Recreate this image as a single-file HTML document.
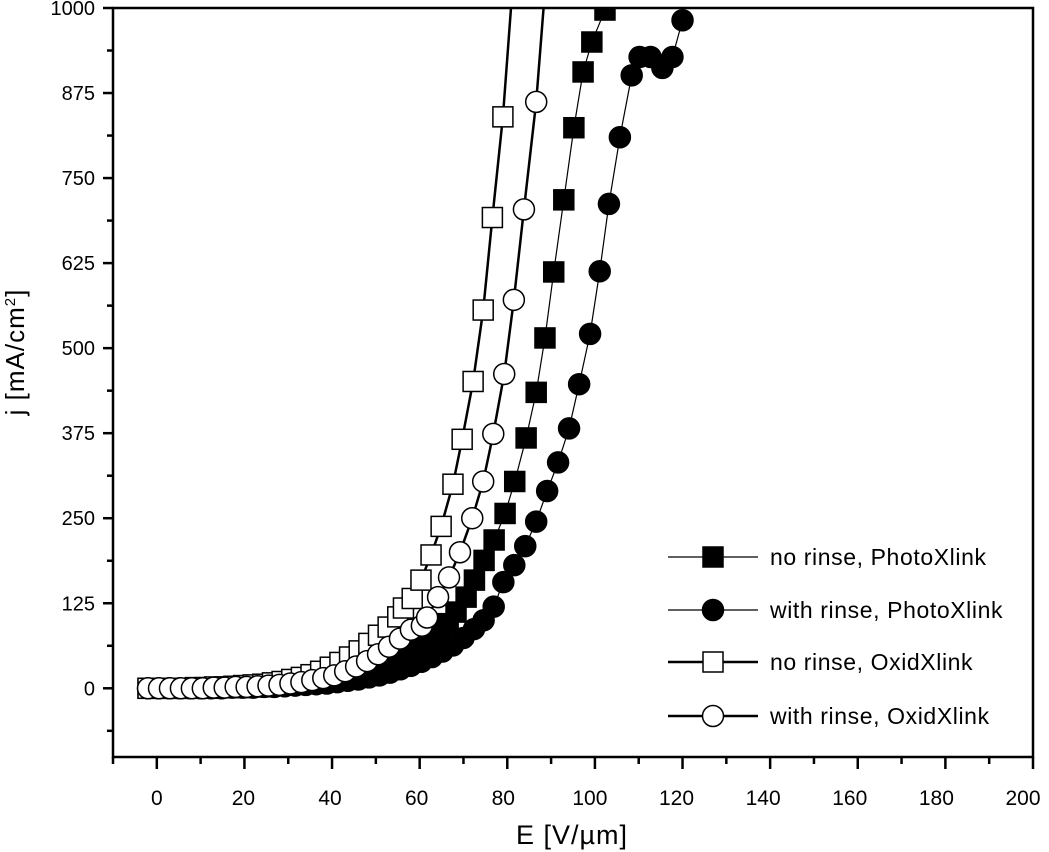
<!DOCTYPE html>
<html><head><meta charset="utf-8"><style>
html,body{margin:0;padding:0;background:#fff;}
svg{display:block;font-family:"Liberation Sans",sans-serif;}
</style></head><body>
<svg id="chart" width="1049" height="852" viewBox="0 0 1049 852">
<defs><clipPath id="clip"><rect x="113" y="8" width="920" height="749"/></clipPath></defs>
<g id="series" clip-path="url(#clip)"></g>
<g id="axes"></g>
<g id="legend"></g>
</svg>
<script>
const xTicks=[0,20,40,60,80,100,120,140,160,180,200];
const yTicks=[0,125,250,375,500,625,750,875,1000];
const seriesNames=["no rinse, PhotoXlink","with rinse, PhotoXlink","no rinse, OxidXlink","with rinse, OxidXlink"];
const fsX=[-2,0.3,2.6,4.9,7.2,9.5,11.8,14.1,16.4,18.7,21,23.3,25.6,27.9,30.2,32.5,34.8,37.1,39.4,41.7,44,46.3,48.6,50.9,53.2,55.5,57.8,60.1,62.4,64.7,66.5,68.3,70.6,72.5,74.7,77,79.5,81.7,84.3,86.6,88.6,90.6,92.9,95.2,97.3,99.3,102.3,104];
const fsY=[0,0,0,0,0,0,0,1,1,1,2,2,3,4,5,6,7,9,11,14,17,21,25,30,36,43,51,60,71,83,95,112,134,159,188,218,257,304,368,435,515,612,718,824,906,950,997,1040];
const fcX=[-2,0.4,2.8,5.2,7.6,10,12.4,14.8,17.2,19.6,22,24.4,26.8,29.2,31.6,34,36.4,38.8,41.2,43.6,46,48.4,50.8,53.2,55.6,58,60.4,62.8,65.2,67.6,70,72.4,74.6,76.9,79.1,81.6,84.1,86.6,89.1,91.6,94.1,96.4,98.9,101.1,103.2,105.7,108.4,110.2,112.7,115.4,117.7,120];
const fcY=[0,0,0,0,0,0,0,0,1,1,1,2,2,3,4,5,6,7,9,11,13,16,19,23,28,33,39,46,54,63,74,87,100,120,156,181,209,245,290,332,382,447,521,613,712,810,901,928,928,912,928,982];
const osX=[-2,0,2.2,4.4,6.6,8.8,11,13.2,15.4,17.6,19.8,22,24.2,26.4,28.6,30.8,33,35.2,37.4,39.6,41.8,44,46.2,48.4,50.6,52.8,55,56.3,58.3,60.3,62.6,64.9,67.6,69.7,72.2,74.5,76.6,79.0,82];
const osY=[0,0,0,0,0,1,1,2,2,3,4,5,6,8,10,13,16,20,25,31,38,46,55,66,78,90,105,118,132,159,196,238,300,366,451,556,692,840,1100];
const ocX=[-2,0.5,3,5.5,8,10.5,13,15.5,18,20.5,23,25.5,28,30.5,33,35.5,38,40.5,43,45.5,48,50.5,53,55.5,58,60.5,61.7,64.2,66.7,69.2,72.0,74.5,76.8,79.3,81.5,83.8,86.6,89.5];
const ocY=[0,0,0,0,0,0,1,1,2,2,3,4,5,7,9,12,15,19,25,32,40,50,61,73,86,92,104,134,163,200,250,304,374,462,571,704,862,1100];

const NS="http://www.w3.org/2000/svg";
const X0=113,X1=1033,Y0=757,Y1=8,xmin=-10,xmax=200,ymin=-101,ymax=1000;
function sx(v){return X0+(v-xmin)/(xmax-xmin)*(X1-X0);}
function sy(v){return Y0-(v-ymin)/(ymax-ymin)*(Y0-Y1);}
function mk(tag,attrs,parent){const e=document.createElementNS(NS,tag);for(const k in attrs)e.setAttribute(k,attrs[k]);parent.appendChild(e);return e;}
const axes=document.getElementById('axes'),ser=document.getElementById('series'),leg=document.getElementById('legend');

const frame=mk('rect',{x:X0,y:Y1,width:X1-X0,height:Y0-Y1,fill:'none',stroke:'#000','stroke-width':2.5},axes);


for(let v=-10;v<=200;v+=10){
  const major=v%20===0;
  const t=mk('line',{x1:sx(v),x2:sx(v),y1:Y0,y2:Y0+(major?12:7),stroke:'#000','stroke-width':2.5},axes);
  
  
}
xTicks.forEach(v=>{
  const t=mk('text',{x:sx(v)-(v/200)*10,y:805,'text-anchor':'middle','font-size':21},axes);t.textContent=v;
  
  
});
for(let v=-62.5;v<=1000;v+=62.5){
  const major=Math.abs(v/125-Math.round(v/125))<1e-6;
  const t=mk('line',{x1:X0-(major?10:6),x2:X0,y1:sy(v),y2:sy(v),stroke:'#000','stroke-width':2.5},axes);
  
  
}
yTicks.forEach(v=>{
  const t=mk('text',{x:95,y:sy(v)+7,'text-anchor':'end','font-size':20},axes);t.textContent=v;
  
  
});
const xt=mk('text',{x:572,y:844,'text-anchor':'middle','font-size':27,'letter-spacing':1},axes);xt.textContent='E [V/µm]';


const yt=mk('text',{x:0,y:0,'text-anchor':'middle','font-size':26,'letter-spacing':1,transform:'translate(24,352) rotate(-90)'},axes);
yt.innerHTML='j [mA/cm<tspan font-size="15" dy="-9">2</tspan><tspan dy="9">]</tspan>';



function marker(g,shape,filled,cx,cy){
  let e;
  if(shape==='sq') e=mk('rect',{x:cx-10,y:cy-10,width:20,height:20},g);
  else e=mk('circle',{cx:cx,cy:cy,r:10.5},g);
  e.setAttribute('fill',filled?'#000':'#fff');
  e.setAttribute('stroke','#000');
  e.setAttribute('stroke-width',1.5);
  return e;
}
const defs=[[fsX,fsY,'sq',true,1.2],[fcX,fcY,'ci',true,1.2],[osX,osY,'sq',false,2.5],[ocX,ocY,'ci',false,2.5]];
const slug=['series-no-rinse-photo','series-rinse-photo','series-no-rinse-oxid','series-rinse-oxid'];
defs.forEach((d,i)=>{
  const g=mk('g',{},ser);
  
  
  const pts=d[0].map((x,j)=>sx(x)+','+sy(d[1][j])).join(' ');
  const l=mk('polyline',{points:pts,fill:'none',stroke:'#000','stroke-width':d[4]},g);
  
  
  d[0].forEach((x,j)=>{
    const m=marker(g,d[2],d[3],sx(x),sy(d[1][j]));
    
    
  });
});
const legY=[557,610,662,716];
defs.forEach((d,i)=>{
  const g=mk('g',{},leg);
  
  
  mk('line',{x1:668,x2:758,y1:legY[i],y2:legY[i],stroke:'#000','stroke-width':d[4]},g);
  marker(g,d[2],d[3],713,legY[i]);
  const t=mk('text',{x:770,y:legY[i]+8,'font-size':23,'letter-spacing':0.6},g);t.textContent=seriesNames[i];
});
</script>
</body></html>
